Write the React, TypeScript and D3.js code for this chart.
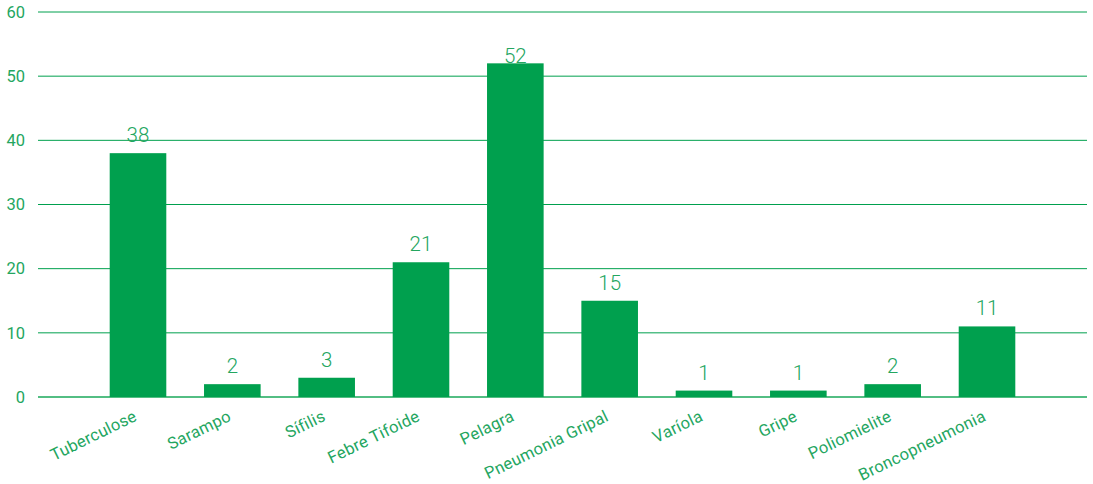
import React, { useEffect, useRef } from 'react';
import * as d3 from 'd3';

const causes = [
  'Tuberculose', 'Sarampo', 'Sífilis', 'Febre Tifoide', 'Pelagra',
  'Pneumonia Gripal', 'Varíola', 'Gripe', 'Poliomielite', 'Broncopneumonia',
];
const deaths = [38, 2, 3, 21, 52, 15, 1, 1, 2, 11];
const yTicks = [0, 10, 20, 30, 40, 50, 60];

const App: React.FC = () => {
  const ref = useRef<SVGSVGElement | null>(null);

  useEffect(() => {
    document.body.style.margin = '0';
    if (!ref.current) return;

    const W = 1093, H = 484;
    const margin = { top: 12, right: 6, bottom: 87, left: 38 };
    const width = W - margin.left - margin.right;
    const height = H - margin.top - margin.bottom;

    const barColor = '#00a04e';
    const textColor = '#24a65f';
    const font = 'Roboto, "Noto Sans", sans-serif';

    const svg = d3.select(ref.current)
      .attr('width', W)
      .attr('height', H);
    svg.selectAll('*').remove();

    const g = svg.append('g')
      .attr('transform', `translate(${margin.left},${margin.top})`);

    const x = d3.scaleBand<string>()
      .domain(causes)
      .range([0, width])
      .paddingInner(0.4)
      .paddingOuter(0.76);
    const y = d3.scaleLinear().domain([0, 60]).range([height, 0]);

    // grid + y labels
    g.selectAll('line.grid')
      .data(yTicks)
      .join('line')
      .attr('class', 'grid')
      .attr('x1', 0)
      .attr('x2', width)
      .attr('y1', d => y(d))
      .attr('y2', d => y(d))
      .attr('stroke', d => (d === 0 ? '#1aa85a' : barColor))
      .attr('stroke-width', d => (d === 0 ? 1.6 : 1));

    g.selectAll('text.ytick')
      .data(yTicks)
      .join('text')
      .attr('class', 'ytick')
      .attr('x', -13)
      .attr('y', d => y(d))
      .attr('dy', '0.35em')
      .attr('text-anchor', 'end')
      .attr('font-family', font)
      .attr('font-size', 16.5)
      .attr('fill', textColor)
      .text(d => d);

    const rows = causes.map((c, i) => ({ cause: c, value: deaths[i] }));

    // value labels (drawn before the bars, so a tall bar covers its label)
    g.selectAll('text.value')
      .data(rows)
      .join('text')
      .attr('class', 'value')
      .attr('x', d => (x(d.cause) as number) + x.bandwidth() / 2)
      .attr('y', d => Math.max(y(d.value) - 11, 51))
      .attr('text-anchor', 'middle')
      .attr('font-family', font)
      .attr('font-weight', 300)
      .attr('font-size', 20.5)
      .attr('fill', textColor)
      .text(d => d.value);

    g.selectAll('rect.bar')
      .data(rows)
      .join('rect')
      .attr('class', 'bar')
      .attr('x', d => x(d.cause) as number)
      .attr('y', d => y(d.value))
      .attr('width', x.bandwidth())
      .attr('height', d => height - y(d.value))
      .attr('fill', barColor);

    // rotated category labels
    g.selectAll('text.cat')
      .data(causes)
      .join('text')
      .attr('class', 'cat')
      .attr('transform', d => `translate(${(x(d) as number) + x.bandwidth() / 2},${height + 23}) rotate(-26)`)
      .attr('text-anchor', 'end')
      .attr('font-family', font)
      .attr('font-size', 16.5)
      .attr('letter-spacing', 0.3)
      .attr('fill', textColor)
      .text(d => d);
  }, []);

  return <svg ref={ref} />;
};

export default App;
